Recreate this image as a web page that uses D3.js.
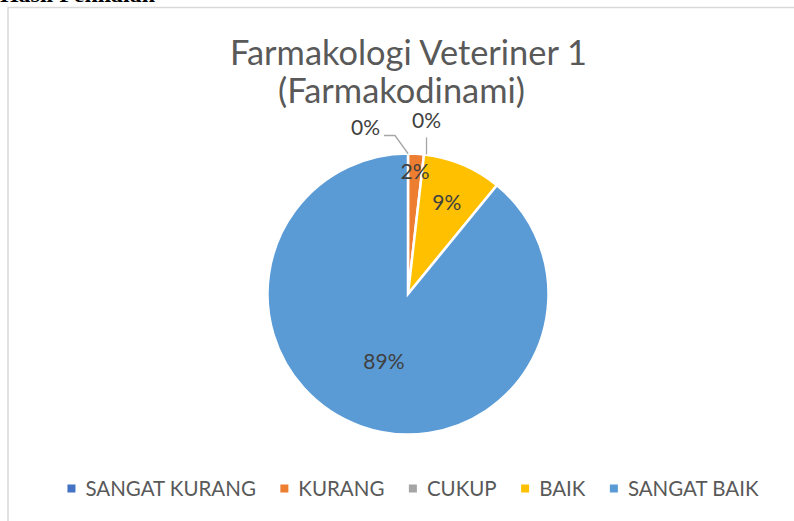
<!DOCTYPE html>
<html>
<head>
<meta charset="utf-8">
<script src="https://cdn.jsdelivr.net/npm/d3@7"></script>
<style>
  body { margin: 0; background: #fff; }
  svg { display: block; }
</style>
</head>
<body>
<script>
// chart data (counts: 0 / 1 / 0 / 5 / 49 of 55)
const categories = ["SANGAT KURANG", "KURANG", "CUKUP", "BAIK", "SANGAT BAIK"];
const counts = [0, 1, 0, 5, 49];
const colors = ["#4472C4", "#ED7D31", "#A5A5A5", "#FFC000", "#5B9BD5"];
const titleLines = ["Farmakologi Veteriner 1", "(Farmakodinami)"];

const W = 794, H = 521;
const cx = 408, cy = 294, R = 140.5;
const font = "Lato, 'Open Sans', sans-serif";

const svg = d3.select("body").append("svg")
    .attr("width", W)
    .attr("height", H);

// cut-off line of the document text above the chart (only its foot shows)
svg.append("text")
    .attr("x", 0)
    .attr("y", 1.5)
    .attr("textLength", 155)
    .attr("lengthAdjust", "spacingAndGlyphs")
    .style("font-family", "'Liberation Serif', serif")
    .style("font-weight", "bold")
    .style("font-size", "20px")
    .style("fill", "#000")
    .text("Hasil Penilaian");

// chart frame (runs off the right / bottom edge)
svg.append("rect")
    .attr("x", 8)
    .attr("y", 7.5)
    .attr("width", 900)
    .attr("height", 600)
    .style("fill", "#fff")
    .style("stroke", "#d9d9d9")
    .style("stroke-width", 1.5);

// title
const titleY = [64.5, 103];
const titleX = [408.5, 401.5];
const titleW = [357, 247];
svg.selectAll("text.title")
    .data(titleLines)
    .join("text")
    .attr("class", "title")
    .attr("x", (d, i) => titleX[i])
    .attr("y", (d, i) => titleY[i])
    .attr("text-anchor", "middle")
    .attr("textLength", (d, i) => titleW[i])
    .attr("lengthAdjust", "spacingAndGlyphs")
    .style("font-family", font)
    .style("font-size", "35px")
    .style("fill", "#595959")
    .text(d => d);

const total = d3.sum(counts);
const pct = v => Math.round(v / total * 100) + "%";

const pie = d3.pie().sort(null).value(d => d.v);
const arcs = pie(categories.map((c, i) => ({ c: c, v: counts[i], i: i })));
const arc = d3.arc().innerRadius(0).outerRadius(R);

const g = svg.append("g").attr("transform", `translate(${cx},${cy})`);

g.selectAll("path.slice")
    .data(arcs.filter(d => d.data.v > 0))
    .join("path")
    .attr("class", "slice")
    .attr("d", arc)
    .style("fill", d => colors[d.data.i])
    .style("stroke", "#fff")
    .style("stroke-width", 2.5)
    .style("stroke-linejoin", "miter");

// labels for non-zero slices (best-fit radius, bigger slice -> nearer centre)
const labelR = [0, 0.875, 0, 0.71, 0.51];
g.selectAll("text.lbl")
    .data(arcs.filter(d => d.data.v > 0))
    .join("text")
    .attr("class", "lbl")
    .attr("transform", d => {
        const a = (d.startAngle + d.endAngle) / 2;
        const r = R * labelR[d.data.i];
        return `translate(${r * Math.sin(a)},${-r * Math.cos(a)})`;
    })
    .attr("dy", "0.36em")
    .attr("text-anchor", "middle")
    .style("font-family", font)
    .style("font-size", "21px")
    .style("fill", "#404040")
    .text(d => pct(d.data.v));

// zero slices: labels outside with leader lines
const zeroArcs = arcs.filter(d => d.data.v === 0);
const leader = {
    0: { pts: [[-13, -18], [-24, -18]], lx: -28, ly: -19, anchor: "end" },
    2: { pts: [[0, -17]], lx: 0, ly: -26.5, anchor: "middle" }
};
zeroArcs.forEach(d => {
    const a = d.startAngle;
    const px = R * Math.sin(a) + (d.data.i === 2 ? 2.5 : 0);
    const py = -R * Math.cos(a);
    const L = leader[d.data.i];
    const pts = [[px, py]].concat(L.pts.map(p => [px + p[0], py + p[1]]));
    g.append("path")
        .attr("d", d3.line()(pts))
        .style("fill", "none")
        .style("stroke", "#a6a6a6")
        .style("stroke-width", 1.3);
    g.append("text")
        .attr("x", px + L.lx)
        .attr("y", py + L.ly)
        .attr("text-anchor", L.anchor)
        .style("font-family", font)
        .style("font-size", "21px")
        .style("fill", "#404040")
        .text(pct(d.data.v));
});

// legend
const legend = svg.append("g");
const items = legend.selectAll("g.item")
    .data(categories)
    .join("g")
    .attr("class", "item");
items.append("rect")
    .attr("width", 8)
    .attr("height", 8)
    .attr("y", 484.5)
    .style("fill", (d, i) => colors[i]);
items.append("text")
    .attr("x", 18)
    .attr("y", 495.5)
    .style("font-family", font)
    .style("font-size", "20.5px")
    .style("fill", "#595959")
    .text(d => d);

let widths = [];
items.each(function () {
    widths.push(d3.select(this).select("text").node().getComputedTextLength());
});
const gap = 24.5;
const full = d3.sum(widths) + widths.length * 18 + (widths.length - 1) * gap;
let x0 = 413 - full / 2;
items.attr("transform", (d, i) => {
    const t = `translate(${x0},0)`;
    x0 += 18 + widths[i] + gap;
    return t;
});
</script>
</body>
</html>
